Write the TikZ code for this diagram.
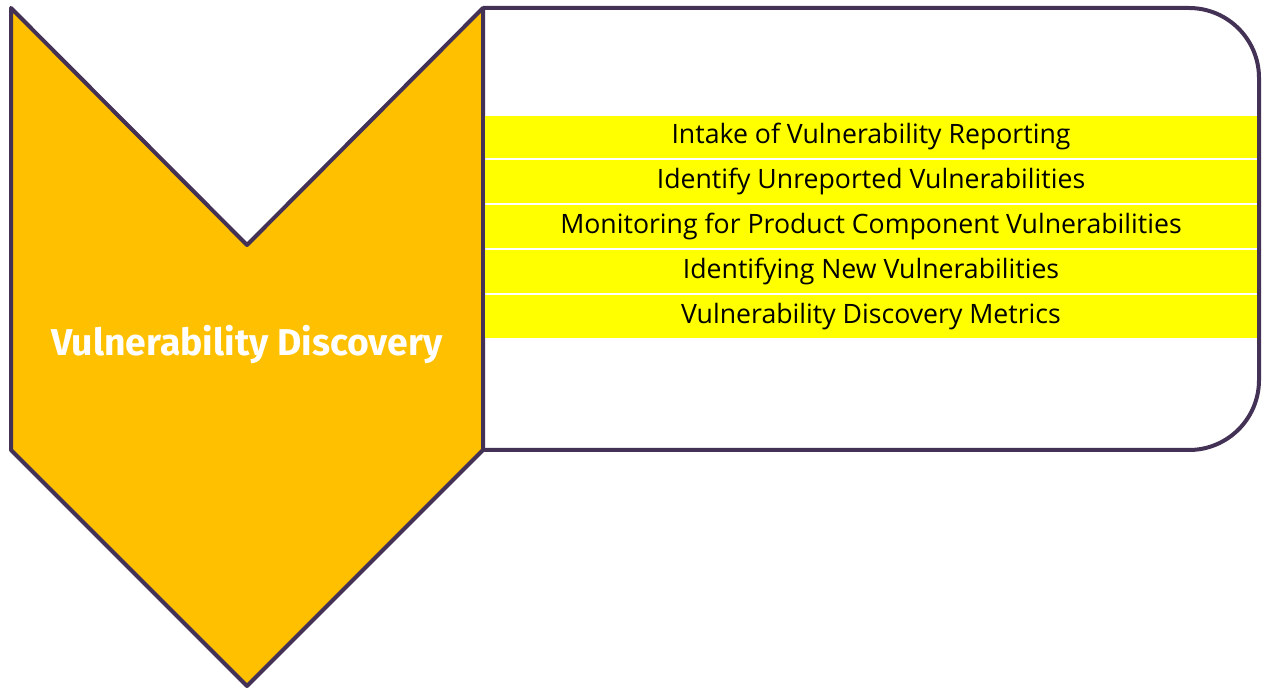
\documentclass[tikz,border=0pt]{standalone}
\usepackage{fontspec}
\setmainfont{Open Sans}
\newfontfamily\titlefont{Fira Sans}
\usepackage{xcolor}
\usetikzlibrary{positioning}
\definecolor{chevfill}{HTML}{FFC000}
\definecolor{edgepurple}{HTML}{433256}
\definecolor{barfill}{HTML}{FFFF00}

\begin{document}
\begin{tikzpicture}[x=0.75pt, y=0.75pt,
    edge/.style={line width=3pt, draw=edgepurple, line join=round},
    bar/.style={fill=barfill, minimum width=579pt, minimum height=32pt, inner sep=0pt, font=\fontsize{20}{24}\selectfont},
    title/.style={text=white, font=\titlefont\bfseries\fontsize{28}{32}\selectfont}]
\useasboundingbox (0,0) rectangle (1263,689);

% Chevron for the phase
\draw[edge, fill=chevfill] (11,681) -- (247,444) -- (483,681) -- (483,239)
    -- (247,3) -- (11,239) -- cycle;
\node[title] (phase) at (247,344) {Vulnerability Discovery};

% Box holding the activities (rounded on the right only)
\draw[edge] (483,681) -- (1189,681) arc[start angle=90, end angle=0, radius=52.5pt]
    -- (1259,309) arc[start angle=0, end angle=-90, radius=52.5pt] -- (483,239);

% Activities
\node[bar] (intake) at (871,552) {Intake of Vulnerability Reporting};
\node[bar, below=1.2pt of intake] (unrep) {Identify Unreported Vulnerabilities};
\node[bar, below=1.2pt of unrep] (monit) {Monitoring for Product Component Vulnerabilities};
\node[bar, below=1.2pt of monit] (newvul) {Identifying New Vulnerabilities};
\node[bar, below=1.2pt of newvul] (metrics) {Vulnerability Discovery Metrics};
\end{tikzpicture}
\end{document}
